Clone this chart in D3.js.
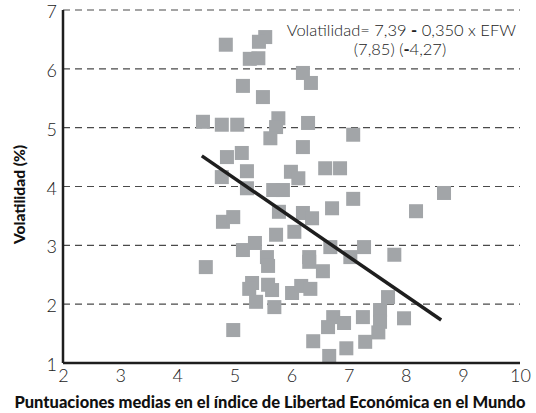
<!DOCTYPE html>
<html>
<head>
<meta charset="utf-8">
<script src="https://cdn.jsdelivr.net/npm/d3@7"></script>
<style>
  body { margin: 0; background: #fff; }
  svg { display: block; }
  text { font-family: Lato, "Open Sans", sans-serif; }
</style>
</head>
<body>
<svg id="chart" width="536" height="413"></svg>
<script>
// datos
const efw = [4.85, 5.54, 5.43, 5.27, 5.42, 6.20, 6.34, 5.15, 5.50, 4.45,
  4.78, 5.05, 5.77, 5.73, 5.63, 6.29, 6.20, 7.08, 4.87, 5.13,
  4.78, 5.22, 5.22, 5.99, 6.12, 6.59, 6.85, 5.68, 5.85, 8.67,
  7.08, 6.71, 8.18, 6.20, 6.36, 5.78, 6.05, 5.73, 4.80, 4.98,
  5.36, 5.15, 5.57, 6.68, 7.27, 6.31, 7.03, 7.80, 4.50, 5.59,
  6.31, 6.55, 5.31, 5.26, 5.66, 5.59, 5.38, 5.70, 6.01, 6.17,
  6.33, 7.69, 7.55, 4.98, 6.73, 6.92, 6.64, 7.25, 7.55, 7.52,
  7.97, 7.29, 6.38, 6.96, 6.66];
const volatilidad = [6.41, 6.54, 6.46, 6.17, 6.18, 5.93, 5.76, 5.71, 5.52, 5.10,
  5.05, 5.05, 5.16, 5.01, 4.82, 5.08, 4.67, 4.88, 4.50, 4.57,
  4.16, 4.26, 3.97, 4.25, 4.14, 4.31, 4.31, 3.94, 3.94, 3.89,
  3.79, 3.63, 3.58, 3.55, 3.46, 3.57, 3.23, 3.18, 3.40, 3.48,
  3.04, 2.92, 2.80, 2.97, 2.97, 2.80, 2.80, 2.84, 2.63, 2.65,
  2.72, 2.56, 2.36, 2.26, 2.24, 2.33, 2.04, 1.95, 2.19, 2.31,
  2.26, 2.12, 1.90, 1.56, 1.78, 1.68, 1.61, 1.78, 1.70, 1.52,
  1.76, 1.36, 1.37, 1.25, 1.12];

// recta de regresión (extremos)
const lineaX = [4.43, 8.62];
const lineaY = [4.52, 1.73];

const xTicks = [2, 3, 4, 5, 6, 7, 8, 9, 10];
const yTicks = [1, 2, 3, 4, 5, 6, 7];

const svg = d3.select("#chart");

const x = d3.scaleLinear().domain([2, 10]).range([63, 520]);
const y = d3.scaleLinear().domain([1, 7]).range([363, 10]);

// líneas de cuadrícula discontinuas
svg.append("g")
  .selectAll("line")
  .data(yTicks.filter(d => d > 1))
  .join("line")
  .attr("x1", x(2))
  .attr("x2", x(10))
  .attr("y1", d => y(d))
  .attr("y2", d => y(d))
  .attr("stroke", "#4a4a4a")
  .attr("stroke-width", 1.2)
  .attr("stroke-dasharray", "7,5");

// puntos
svg.append("g")
  .selectAll("rect")
  .data(efw.map((v, i) => [v, volatilidad[i]]))
  .join("rect")
  .attr("x", d => x(d[0]) - 7)
  .attr("y", d => y(d[1]) - 7)
  .attr("width", 14)
  .attr("height", 14)
  .attr("fill", "#a2a5a8");

// recta
svg.append("path")
  .datum(lineaX.map((v, i) => [v, lineaY[i]]))
  .attr("d", d3.line().x(d => x(d[0])).y(d => y(d[1])))
  .attr("stroke", "#1e1e1e")
  .attr("stroke-width", 3.5)
  .attr("fill", "none");

// ejes
const xAxis = svg.append("g")
  .attr("transform", `translate(0,${y(1)})`)
  .call(d3.axisBottom(x).tickValues(xTicks).tickSize(0).tickPadding(6).tickFormat(d3.format("d")));
xAxis.select(".domain").attr("stroke", "#1e1e1e").attr("stroke-width", 2.5).attr("d", `M${x(2)},0H${x(10)}`);
xAxis.selectAll("text").attr("font-size", 18).attr("font-weight", 300).attr("fill", "#222")
  .style("font-family", "Lato, sans-serif");

const yAxis = svg.append("g")
  .attr("transform", `translate(${x(2)},0)`)
  .call(d3.axisLeft(y).tickValues(yTicks).tickSize(0).tickPadding(6).tickFormat(d3.format("d")));
yAxis.select(".domain").attr("stroke", "#1e1e1e").attr("stroke-width", 2.5).attr("d", `M0,${y(7)}V${y(1)}`);
yAxis.selectAll("text").attr("font-size", 18).attr("font-weight", 300).attr("fill", "#222")
  .attr("dy", "0.42em")
  .style("font-family", "Lato, sans-serif");

// títulos
svg.append("text")
  .attr("x", 270)
  .attr("y", 408)
  .attr("text-anchor", "middle")
  .attr("font-size", 16.5)
  .attr("font-weight", 900)
  .attr("fill", "#111")
  .text("Puntuaciones medias en el índice de Libertad Económica en el Mundo");

svg.append("text")
  .attr("transform", `translate(25,${(y(1) + y(7)) / 2 + 8}) rotate(-90)`)
  .attr("text-anchor", "middle")
  .attr("font-size", 15.5)
  .attr("font-weight", 900)
  .attr("fill", "#111")
  .text("Volatilidad (%)");

// ecuación
const eq = svg.append("text")
  .attr("x", 516)
  .attr("y", 36)
  .attr("text-anchor", "end")
  .attr("font-size", 16.5)
  .attr("font-weight", 300)
  .attr("fill", "#222");
eq.append("tspan").text("Volatilidad= 7,39 ");
eq.append("tspan").attr("font-weight", "bold").text("-");
eq.append("tspan").text(" 0,350 x EFW");

const eq2 = svg.append("text")
  .attr("x", 400)
  .attr("y", 55)
  .attr("text-anchor", "middle")
  .attr("font-size", 16.5)
  .attr("font-weight", 300)
  .attr("fill", "#222");
eq2.append("tspan").text("(7,85) (");
eq2.append("tspan").attr("font-weight", "bold").text("-");
eq2.append("tspan").text("4,27)");
</script>
</body>
</html>
